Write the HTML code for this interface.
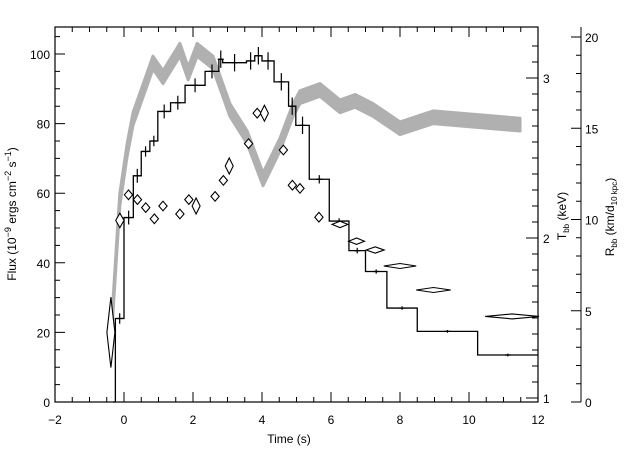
<!DOCTYPE html>
<html><head><meta charset="utf-8"><style>
html,body{margin:0;padding:0;background:#fff;}
svg{display:block;font-family:"Liberation Sans",sans-serif;}
text{font-size:12px;fill:#000;}
</style></head><body>
<svg id="chart" width="640" height="457" xmlns="http://www.w3.org/2000/svg">
<rect x="0" y="0" width="640" height="457" fill="#fff"/>
<g id="band"></g>
<g id="flux"></g>
<g id="temp"></g>
<g id="axes"></g>
<text x="289" y="443" text-anchor="middle">Time (s)</text>
<text transform="translate(16,214) rotate(-90)" text-anchor="middle">Flux (10<tspan dy="-5" font-size="9">−9</tspan><tspan dy="5"> ergs cm</tspan><tspan dy="-5" font-size="9">−2</tspan><tspan dy="5"> s</tspan><tspan dy="-5" font-size="9">−1</tspan><tspan dy="5">)</tspan></text>
<text transform="translate(566,216) rotate(-90)" text-anchor="middle">T<tspan dy="3" font-size="8">bb</tspan><tspan dy="-3"> (keV)</tspan></text>
<text transform="translate(614,217) rotate(-90)" text-anchor="middle">R<tspan dy="3" font-size="8">bb</tspan><tspan dy="-3"> (km/d</tspan><tspan dy="3" font-size="8">10 kpc</tspan><tspan dy="-3">)</tspan></text>
</svg>
<script>
const fluxEdges=[-0.25,0,0.27,0.5,0.75,0.98,1.35,1.77,2.35,2.75,2.86,3.55,3.79,4.0,4.35,4.77,4.98,5.37,5.95,6.52,7.0,7.62,8.5,10.25,12];
const fluxValues=[24,53,65,72,75,83.5,86,91,95,98.5,97.5,98,99.5,98,92,85,79.5,64,52,43.5,37.5,27,20.3,13.5];
const fluxErrors=[1.5,2,2,1.5,1.5,2,2,2,2,2.5,2.5,2.5,2.5,2.5,2.5,2.5,2.5,1.2,0.8,0.8,0.6,0.5,0.4,0.4];
const tempTimes=[-0.38,-0.12,0.13,0.39,0.63,0.88,1.13,1.62,1.88,2.09,2.64,2.88,3.05,3.61,3.86,4.07,4.62,4.88,5.1,5.65,6.26,6.74,7.28,8.0,8.97,11.25];
const tempValues=[1.41,2.11,2.27,2.24,2.19,2.12,2.2,2.15,2.24,2.2,2.26,2.36,2.45,2.59,2.78,2.78,2.55,2.33,2.31,2.13,2.085,1.98,1.925,1.825,1.675,1.51];
const tempTimeErr=[0.1,0.12,0.12,0.12,0.12,0.12,0.12,0.12,0.12,0.07,0.12,0.12,0.06,0.12,0.12,0.07,0.12,0.12,0.12,0.12,0.23,0.23,0.26,0.47,0.5,0.78];
const tempErr=[0.22,0.045,0.03,0.03,0.03,0.03,0.03,0.03,0.03,0.05,0.03,0.03,0.05,0.03,0.03,0.05,0.03,0.03,0.03,0.03,0.02,0.02,0.02,0.015,0.015,0.015];
const radTimes=[-0.38,-0.17,-0.12,0.09,0.26,0.84,1.13,1.62,1.86,2.12,2.58,3.07,3.57,4.03,4.52,4.9,5.1,5.68,6.26,6.7,7.22,8.0,8.96,11.48];
const radValues=[3.4,9.7,11.1,13.8,15.5,18.6,17.8,19.3,18.0,19.3,18.6,16.0,14.5,12.2,14.1,16.0,16.7,17.1,16.2,16.5,16.0,15.0,15.6,15.2];
const radErr=0.35;
const xTickLabels=["−2","0","2","4","6","8","10","12"];
const yTickLabels=["0","20","40","60","80","100"];
const tTickLabels=["1","2","3"];
const rTickLabels=["0","5","10","15","20"];

const L=55,R=538,T=27,B=402;
const xS=t=>L+(t+2)*(R-L)/14;
const yF=v=>B-v*3.48;
const yT=k=>398-(k-1)*160;
const yR=r=>B-r*18.25;
const NS='http://www.w3.org/2000/svg';
function mk(tag,parent,attrs){const e=document.createElementNS(NS,tag);for(const k in attrs)e.setAttribute(k,attrs[k]);parent.appendChild(e);return e;}

const band=document.getElementById('band');
let up=radTimes.map((t,i)=>xS(t)+','+yR(radValues[i]+radErr));
let dn=radTimes.map((t,i)=>xS(t)+','+yR(radValues[i]-radErr)).reverse();
const bp=mk('polygon',band,{points:up.concat(dn).join(' '),fill:'#b0b0b0',stroke:'#b0b0b0','stroke-width':'3','stroke-linejoin':'round'});



const fg=document.getElementById('flux');
let d='M'+xS(-0.32)+','+yF(0)+' L'+xS(fluxEdges[0])+','+yF(0);
for(let i=0;i<fluxValues.length;i++){d+=' L'+xS(fluxEdges[i])+','+yF(fluxValues[i])+' L'+xS(fluxEdges[i+1])+','+yF(fluxValues[i]);}
const fp=mk('path',fg,{d:d,fill:'none',stroke:'#000','stroke-width':'1.3'});


for(let i=0;i<fluxValues.length;i++){
  const c=(fluxEdges[i]+fluxEdges[i+1])/2, x=xS(c);
  const e=mk('path',fg,{d:'M'+x+','+yF(fluxValues[i]+fluxErrors[i])+' L'+x+','+yF(fluxValues[i]-fluxErrors[i])+' M'+(x-3)+','+yF(fluxValues[i])+' L'+(x+3)+','+yF(fluxValues[i]),stroke:'#000','stroke-width':'1.2',fill:'none'});
  
  
}

const tg=document.getElementById('temp');
for(let i=0;i<tempTimes.length;i++){
  const x=xS(tempTimes[i]),y=yT(tempValues[i]);
  const hw=Math.max(4,tempTimeErr[i]*34.5),hh=Math.max(2.5,tempErr[i]*160);
  const p=mk('polygon',tg,{points:(x-hw)+','+y+' '+x+','+(y-hh)+' '+(x+hw)+','+y+' '+x+','+(y+hh),fill:'#fff',stroke:'#000','stroke-width':'1.1'});
  
  
}

const ax=document.getElementById('axes');
mk('rect',ax,{x:L,y:T,width:R-L,height:B-T,fill:'none',stroke:'#000','stroke-width':'1.2'});
let tk='';
for(let v=-2;v<=12.001;v+=0.5){const x=xS(v),big=Math.abs(v-Math.round(v/2)*2)<1e-6;const len=big?10:5;tk+='M'+x+','+B+' L'+x+','+(B-len)+' M'+x+','+T+' L'+x+','+(T+len)+' ';}
for(let v=0;v<=105;v+=5){const y=yF(v),len=(v%20===0)?10:5;tk+='M'+L+','+y+' L'+(L+len)+','+y+' ';}
for(let k=10;k<=32;k++){const v=k/10,y=yT(v);if(y<T||y>B)continue;const len=(k%10===0)?12:6;tk+='M'+R+','+y+' L'+(R-len)+','+y+' ';}
tk+='M581,'+T+' L581,'+B+' ';
for(let r=0;r<=20;r++){const y=yR(r),len=(r%5===0)?10:5;tk+='M581,'+y+' L'+(581-len)+','+y+' ';}
const tp=mk('path',ax,{d:tk,stroke:'#000','stroke-width':'1',fill:'none'});


xTickLabels.forEach((s,i)=>{const t=mk('text',ax,{x:xS(-2+2*i),y:424,'text-anchor':'middle'});t.textContent=s;
 
 });
yTickLabels.forEach((s,i)=>{const t=mk('text',ax,{x:50,y:yF(i*20)+5,'text-anchor':'end'});t.textContent=s;
 
 });
tTickLabels.forEach((s,i)=>{const t=mk('text',ax,{x:543,y:yT(i+1)+5});t.textContent=s;
 
 });
rTickLabels.forEach((s,i)=>{const t=mk('text',ax,{x:585,y:yR(i*5)+5});t.textContent=s;
 
 });
</script>
</body></html>
